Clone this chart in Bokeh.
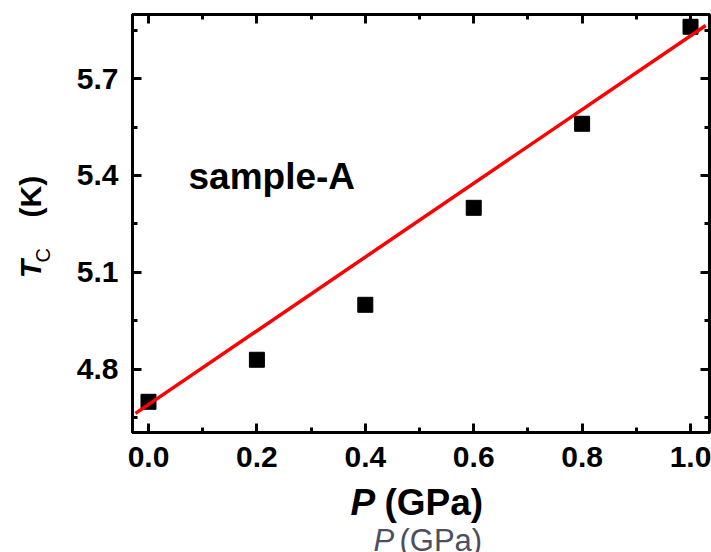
import math
from bokeh.plotting import figure
from bokeh.models import Range1d, LinearAxis, FixedTicker, Label
from bokeh.layouts import column, row
from bokeh.embed import file_html
from bokeh.resources import INLINE

# ---- data ----
pressure = [0.0, 0.2, 0.4, 0.6, 0.8, 1.0]          # P (GPa)
tc = [4.70, 4.83, 5.00, 5.30, 5.56, 5.86]          # Tc (K)
fit_p = [-0.024, 1.028]                             # linear fit, end points
fit_tc = [4.664, 5.864]
x_major = [0.0, 0.2, 0.4, 0.6, 0.8, 1.0]
x_minor = [0.1, 0.3, 0.5, 0.7, 0.9]
x_labels = ["0.0", "0.2", "0.4", "0.6", "0.8", "1.0"]
y_major = [4.8, 5.1, 5.4, 5.7]
y_minor = [4.65, 4.95, 5.25, 5.55, 5.85]
y_labels = ["4.8", "5.1", "5.4", "5.7"]

FONT = "Liberation Sans"
LEFT_W = 60
MAIN_H = 482
BOTTOM_H = 70

p = figure(
    frame_width=577, frame_height=418,
    min_border_left=72, min_border_right=2, min_border_top=14, min_border_bottom=50,
    x_range=Range1d(-0.0295, 1.035), y_range=Range1d(4.605, 5.898),
    output_backend="svg", toolbar_location=None,
)
p.background_fill_color = "white"
p.border_fill_color = "white"
p.outline_line_color = "black"
p.outline_line_width = 3
p.xgrid.visible = False
p.ygrid.visible = False


def style_axis(ax, ticks, minors, labels, show_labels):
    ax.ticker = FixedTicker(ticks=ticks, minor_ticks=minors)
    ax.axis_line_color = "black"
    ax.axis_line_width = 3
    ax.major_tick_line_color = "black"
    ax.major_tick_line_width = 3
    ax.minor_tick_line_color = "black"
    ax.minor_tick_line_width = 3
    ax.major_tick_in = 9
    ax.major_tick_out = 0
    ax.minor_tick_in = 5
    ax.minor_tick_out = 0
    ax.axis_label = None
    if show_labels:
        ax.major_label_overrides = dict(zip(ticks, labels))
        ax.major_label_text_font = FONT
        ax.major_label_text_font_style = "bold"
        ax.major_label_text_font_size = "30px"
        ax.major_label_text_color = "black"
        ax.major_label_standoff = 14
    else:
        ax.major_label_text_font_size = "0px"
        ax.major_label_text_color = None
        ax.major_label_standoff = 0
        ax.axis_label_standoff = 0


style_axis(p.xaxis[0], x_major, x_minor, x_labels, True)
style_axis(p.yaxis[0], y_major, y_minor, y_labels, True)

top = LinearAxis()
style_axis(top, x_major, x_minor, x_labels, False)
p.add_layout(top, "above")
right = LinearAxis()
style_axis(right, y_major, y_minor, y_labels, False)
p.add_layout(right, "right")

p.scatter(pressure, tc, marker="square", size=15, color="black")
p.line(fit_p, fit_tc, line_color="#ff0000", line_width=3.5)

p.add_layout(Label(x=0.0738, y=5.397, text="sample-A", text_font=FONT,
                   text_font_style="bold", text_font_size="37px",
                   text_color="black", text_align="left", text_baseline="alphabetic"))


def text_panel(w, h):
    f = figure(width=w, height=h, x_range=Range1d(0, w), y_range=Range1d(h, 0),
               min_border_left=0, min_border_right=0, min_border_top=0, min_border_bottom=0,
               x_axis_type=None, y_axis_type=None, output_backend="svg",
               toolbar_location=None)
    f.outline_line_color = None
    f.background_fill_color = "white"
    f.border_fill_color = "white"
    f.xgrid.visible = False
    f.ygrid.visible = False
    return f


# y axis title panel: T_C (K)
left = text_panel(LEFT_W, MAIN_H)
left.add_layout(Label(x=30, y=304, text="T", angle=math.pi / 2, text_font=FONT,
                      text_font_style="bold italic", text_font_size="30px",
                      text_align="left", text_baseline="alphabetic", text_color="black"))
left.add_layout(Label(x=42, y=286, text="C", angle=math.pi / 2, text_font=FONT,
                      text_font_style="normal", text_font_size="20px",
                      text_align="left", text_baseline="alphabetic", text_color="black"))
left.add_layout(Label(x=30, y=234, text="(K)", angle=math.pi / 2, text_font=FONT,
                      text_font_style="bold", text_font_size="30px",
                      text_align="left", text_baseline="alphabetic", text_color="black"))

# x axis title panel: P (GPa) and the faded duplicate caption
bottom = text_panel(LEFT_W + 651, BOTTOM_H)
bottom.add_layout(Label(x=350, y=20, text="P", text_font=FONT,
                        text_font_style="bold italic", text_font_size="37px",
                        text_align="left", text_baseline="alphabetic", text_color="black"))
bottom.add_layout(Label(x=384, y=20, text="(GPa)", text_font=FONT,
                        text_font_style="bold", text_font_size="37px",
                        text_align="left", text_baseline="alphabetic", text_color="black"))
bottom.add_layout(Label(x=373, y=58, text="P", text_font=FONT,
                        text_font_style="italic", text_font_size="31px",
                        text_align="left", text_baseline="alphabetic", text_color="#4e4e5e"))
bottom.add_layout(Label(x=399, y=58, text="(GPa)", text_font=FONT,
                        text_font_style="normal", text_font_size="31px",
                        text_align="left", text_baseline="alphabetic", text_color="#4e4e5e"))

layout = column(row(left, p, spacing=0), bottom, spacing=0)

open("out.html", "w").write(file_html(layout, INLINE))
